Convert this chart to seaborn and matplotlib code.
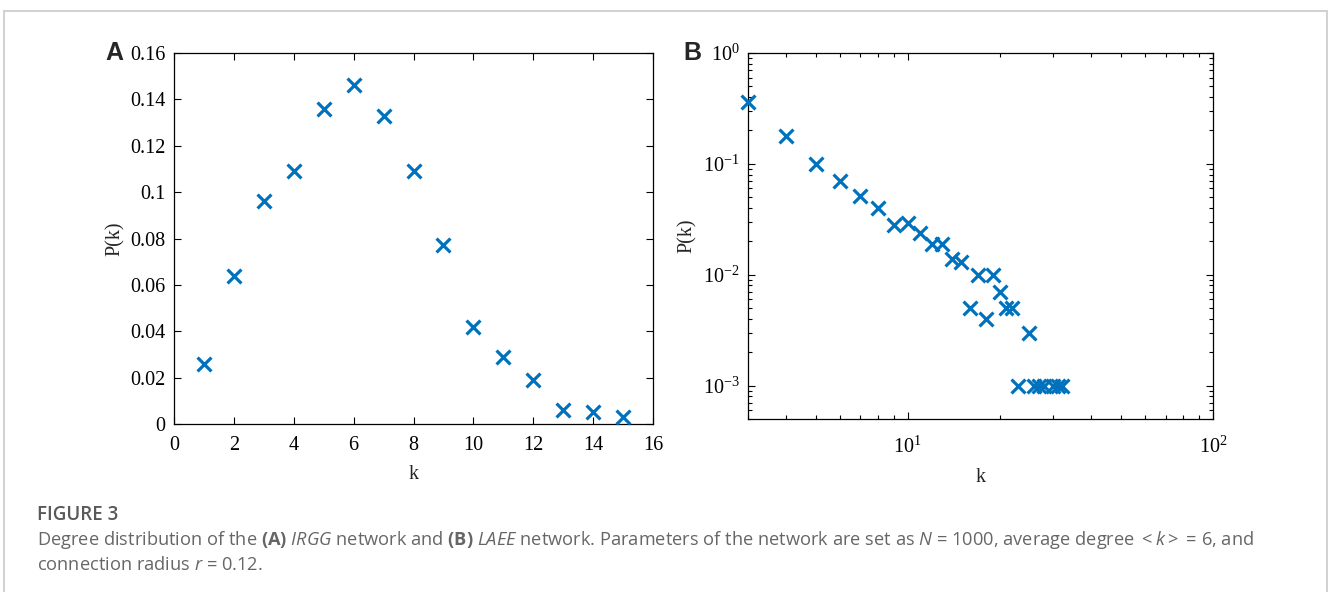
import numpy as np
import matplotlib
matplotlib.use('Agg')
import matplotlib.pyplot as plt
import seaborn as sns
from matplotlib.patches import Rectangle
from matplotlib.ticker import FixedLocator, FuncFormatter, LogLocator, NullFormatter

# --- data ---
# (A) IRGG network, linear axes
k_irgg = [1, 2, 3, 4, 5, 6, 7, 8, 9, 10, 11, 12, 13, 14, 15]
p_irgg = [0.026, 0.064, 0.096, 0.109, 0.136, 0.146, 0.133, 0.109,
          0.077, 0.042, 0.029, 0.019, 0.006, 0.005, 0.003]

# (B) LAEE network, log-log axes
k_laee = [3, 4, 5, 6, 7, 8, 9, 10, 11, 12, 13, 14, 15, 16, 17, 18, 19, 20,
          21, 22, 25, 23, 26, 27, 28, 30, 31, 32]
p_laee = [0.36, 0.179, 0.1, 0.07, 0.051, 0.04, 0.028, 0.029, 0.024, 0.019,
          0.019, 0.014, 0.013, 0.005, 0.01, 0.004, 0.01, 0.007, 0.005, 0.005,
          0.003, 0.001, 0.001, 0.001, 0.001, 0.001, 0.001, 0.001]

xticks_a = [0, 2, 4, 6, 8, 10, 12, 14, 16]
yticks_a = [0, 0.02, 0.04, 0.06, 0.08, 0.1, 0.12, 0.14, 0.16]

caption_title = "FIGURE 3"
caption_line1 = (r"Degree distribution of the $\mathbf{(A)}$ $\mathit{IRGG}$ network and "
                 r"$\mathbf{(B)}$ $\mathit{LAEE}$ network. Parameters of the network are set as "
                 r"$\mathit{N}$ = 1000, average degree $<\mathit{k}>$ = 6, and")
caption_line2 = r"connection radius $\mathit{r}$ = 0.12."

# --- style ---
sns.set_style('ticks')
plt.rcParams['font.family'] = ['Liberation Serif', 'DejaVu Serif']
plt.rcParams['mathtext.fontset'] = 'custom'
plt.rcParams['mathtext.rm'] = 'Open Sans'
plt.rcParams['mathtext.it'] = 'Open Sans:italic'
plt.rcParams['mathtext.bf'] = 'Open Sans:bold'
plt.rcParams['axes.linewidth'] = 0.9

blue = '#0072BD'
W, H = 1328, 592
fig = plt.figure(figsize=(W / 100, H / 100), dpi=100)


def px_axes(left, top, right, bottom):
    return fig.add_axes([left / W, 1 - bottom / H, (right - left) / W, (bottom - top) / H])


def style_axes(ax, xpad):
    ax.tick_params(which='both', direction='in', top=True, right=True,
                   labelsize=14.5, colors='black', width=0.8)
    ax.tick_params(which='major', length=5)
    ax.tick_params(which='minor', length=3)
    ax.tick_params(axis='x', pad=xpad)
    ax.tick_params(axis='y', pad=6)
    for s in ax.spines.values():
        s.set_visible(True)
        s.set_color('black')
    ax.set_xlabel('k', fontsize=14.5, labelpad=7)
    ax.set_ylabel('P(k)', fontsize=14.5, labelpad=4)


# panel A
ax_a = px_axes(174, 53, 653, 424)
sns.scatterplot(x=k_irgg, y=p_irgg, ax=ax_a, marker='x', s=100, color=blue,
                linewidth=2.3, clip_on=False, zorder=3)
ax_a.set_xlim(0, 16)
ax_a.set_ylim(0, 0.16)
ax_a.xaxis.set_major_locator(FixedLocator(xticks_a))
ax_a.yaxis.set_major_locator(FixedLocator(yticks_a))
ax_a.yaxis.set_major_formatter(FuncFormatter(lambda v, pos: f'{v:g}'))
style_axes(ax_a, 9)
ax_a.text(-0.143, 1.0, 'A', transform=ax_a.transAxes, fontsize=18, fontweight='bold',
          family='Liberation Sans', ha='left', va='center')

# panel B
ax_b = px_axes(748, 53, 1213, 419)
sns.scatterplot(x=k_laee, y=p_laee, ax=ax_b, marker='x', s=100, color=blue,
                linewidth=2.3, clip_on=False, zorder=3)
ax_b.set_xscale('log')
ax_b.set_yscale('log')
ax_b.set_xlim(3, 100)
ax_b.set_ylim(5e-4, 1)
ax_b.xaxis.set_major_locator(LogLocator(base=10))
ax_b.xaxis.set_minor_locator(LogLocator(base=10, subs=np.arange(2, 10)))
ax_b.yaxis.set_minor_locator(LogLocator(base=10, subs=np.arange(2, 10)))
ax_b.xaxis.set_minor_formatter(NullFormatter())
ax_b.yaxis.set_minor_formatter(NullFormatter())
style_axes(ax_b, 13)
ax_b.text(-0.14, 1.0, 'B', transform=ax_b.transAxes, fontsize=18, fontweight='bold',
          family='Liberation Sans', ha='left', va='center')

# frame around the figure panel
fig.patches.append(Rectangle((4 / W, -0.2), 1323 / W, 1.2 - 10.5 / H,
                             transform=fig.transFigure, fill=False,
                             edgecolor='#d2d2d2', linewidth=1.5))

# caption
fig.text(37 / W, 1 - 515 / H, caption_title, family='Open Sans', fontsize=13.5,
         fontweight='semibold', color='#58595b', va='center')
fig.text(37 / W, 1 - 540 / H, caption_line1, family='Open Sans', fontsize=13.15,
         color='#666666', va='center')
fig.text(37 / W, 1 - 565 / H, caption_line2, family='Open Sans', fontsize=13.15,
         color='#666666', va='center')

fig.savefig('out.png', dpi=100)
